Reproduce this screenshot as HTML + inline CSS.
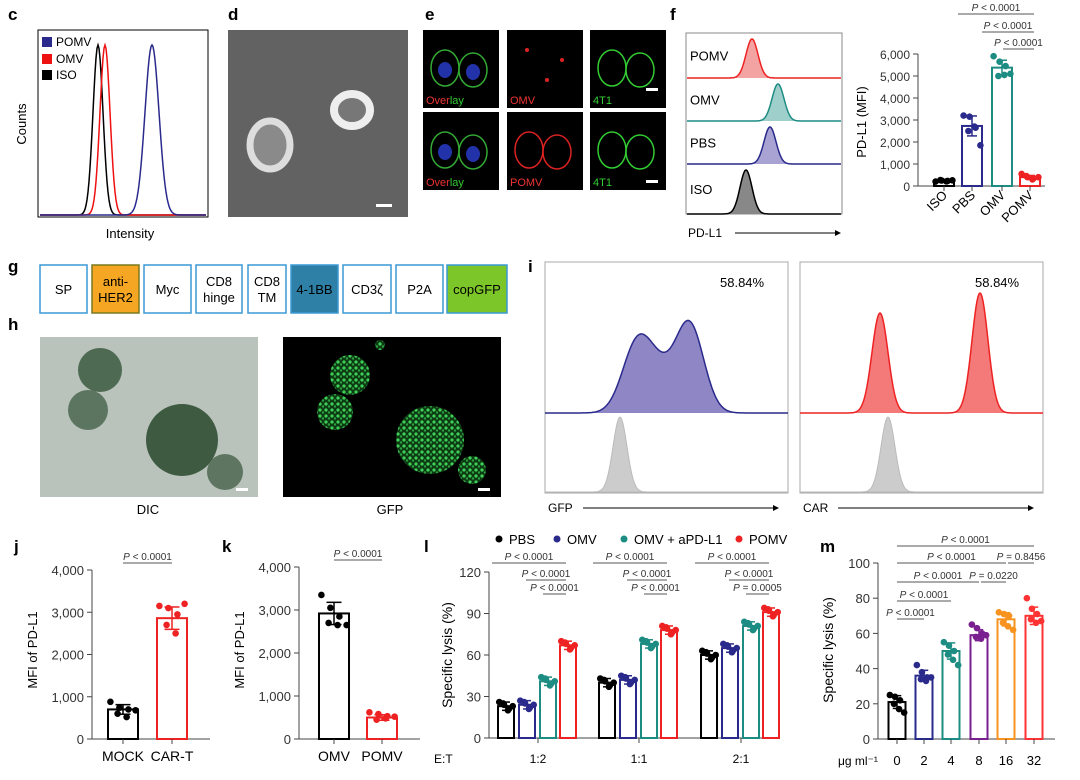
<!DOCTYPE html>
<html><head><meta charset="utf-8"><style>
html,body{margin:0;padding:0;background:#fff}
svg{display:block;font-family:"Liberation Sans",sans-serif}
</style></head><body>
<svg id="fig" width="1080" height="780" viewBox="0 0 1080 780" xmlns="http://www.w3.org/2000/svg">
<defs>
<pattern id="speck" width="6" height="6" patternUnits="userSpaceOnUse"><rect width="6" height="6" fill="#0d3a12"/><circle cx="2" cy="2" r="1.6" fill="#3fd05a"/><circle cx="5" cy="4.5" r="1.2" fill="#2aa040"/></pattern>
<marker id="arr" markerWidth="6" markerHeight="6" refX="5" refY="3" orient="auto"><path d="M0,0 L6,3 L0,6 z" fill="#000"/></marker>
</defs>
<g font-weight="bold" font-size="17">
<text x="8" y="20">c</text><text x="228" y="20">d</text><text x="425" y="20">e</text><text x="670" y="20">f</text>
<text x="8" y="272">g</text><text x="8" y="330">h</text><text x="528" y="272">i</text>
<text x="14" y="552">j</text><text x="222" y="552">k</text><text x="424" y="552">l</text><text x="820" y="552">m</text>
</g>
<g>
<rect x="38" y="30" width="170" height="187" fill="none" stroke="#000" stroke-width="1"/>
<text x="26" y="124" font-size="13" transform="rotate(-90 26 124)" text-anchor="middle">Counts</text>
<text x="130" y="238" font-size="13" text-anchor="middle">Intensity</text>
<g id="cCurves"></g>
<g font-size="12">
<rect x="42" y="37" width="10" height="10" fill="#2a2a8c"/><text x="56" y="46">POMV</text>
<rect x="42" y="54" width="10" height="10" fill="#e11"/><text x="56" y="63">OMV</text>
<rect x="42" y="70" width="10" height="10" fill="#000"/><text x="56" y="79">ISO</text>
</g>
</g>
<g>
<rect x="228" y="30" width="180" height="187" fill="#626262"/>
<ellipse cx="270" cy="145" rx="20" ry="24" fill="#8a8a8a" stroke="#ddd" stroke-width="7"/>
<ellipse cx="352" cy="110" rx="18" ry="16" fill="#777" stroke="#eee" stroke-width="8"/>
<rect x="376" y="204" width="16" height="3" fill="#fff"/>
</g>
<g id="panelE"></g>
<g>
<rect x="686" y="33" width="156" height="181" fill="none" stroke="#888"/>
<g id="fHist"></g>
<text x="688" y="237" font-size="12">PD-L1</text>
<line x1="735" y1="233" x2="840" y2="233" stroke="#000" marker-end="url(#arr)"/>
</g>
<g id="fBar"></g>
<g id="panelG"></g>
<g>
<rect x="40" y="337" width="218" height="160" fill="#b9c3bb"/>
<circle cx="100" cy="370" r="22" fill="#4f6a52"/><circle cx="88" cy="410" r="20" fill="#5c7560"/>
<circle cx="182" cy="440" r="36" fill="#3e5a41"/><circle cx="225" cy="472" r="18" fill="#5e7661"/>
<rect x="236" y="488" width="12" height="3" fill="#fff"/>
<text x="148" y="514" font-size="13" text-anchor="middle">DIC</text>
<rect x="283" y="337" width="218" height="160" fill="#000"/>
<circle cx="350" cy="375" r="20" fill="url(#speck)"/><circle cx="335" cy="412" r="18" fill="url(#speck)"/>
<circle cx="430" cy="440" r="34" fill="url(#speck)"/><circle cx="472" cy="470" r="14" fill="url(#speck)"/>
<circle cx="380" cy="345" r="5" fill="url(#speck)"/>
<rect x="478" y="488" width="12" height="3" fill="#fff"/>
<text x="390" y="514" font-size="13" text-anchor="middle">GFP</text>
</g>
<g id="panelI"></g>
<g id="jBar"></g>
<g id="kBar"></g>
<g id="lBar"></g>
<g id="mBar"></g>
</svg>
<script>
const fCats=["ISO","PBS","OMV","POMV"];
const fVals=[250,2730,5380,400];
const fDots=[[200,250,230,270,210,260],[3200,3150,2650,2500,2700,1850],[5900,5650,5450,5000,5050,5100],[550,400,350,450,300,400]];
const fTicks=[0,1000,2000,3000,4000,5000,6000];
const jCats=["MOCK","CAR-T"];
const jVals=[700,2860];
const jDots=[[880,740,700,600,520,680],[3150,3100,2950,2700,2500,3200]];
const kCats=["OMV","POMV"];
const kVals=[2920,500];
const kDots=[[3350,3050,2850,2700,2650,2650],[620,580,530,450,480,520]];
const jkTicks=[0,1000,2000,3000,4000];
const lGroups=["1:2","1:1","2:1"];
const lSeries=["PBS","OMV","OMV + aPD-L1","POMV"];
const lVals=[[23,24,41,67],[40,42,68,78],[60,65,81,91]];
const lTicks=[0,30,60,90,120];
const mCats=["0","2","4","8","16","32"];
const mVals=[21,36,50,59,68,70];
const mDots=[[25,24,22,20,17,15],[42,38,35,34,33,35],[55,53,50,48,45,42],[65,63,60,58,57,59],[72,71,70,66,64,62],[80,74,71,68,66,67]];
const mTicks=[0,20,40,60,80,100];
const cPeaks=[98,105,152];
const NS="http://www.w3.org/2000/svg";
function mk(tag,attrs,parent,txt){const e=document.createElementNS(NS,tag);for(const k in attrs)e.setAttribute(k,attrs[k]);if(txt!==undefined)e.textContent=txt;parent.appendChild(e);return e;}
function fmt(v){return v>=1000?(Math.floor(v/1000)+","+String(v%1000).padStart(3,"0")):String(v);}
function axisY(g,x,yScale,ticks,fs){
  const ax=mk("line",{x1:x,x2:x,y1:yScale(ticks[0]),y2:yScale(ticks[ticks.length-1]),stroke:"#444"},g);
  
  ticks.forEach(t=>{const y=yScale(t);mk("line",{x1:x-5,x2:x,y1:y,y2:y,stroke:"#444"},g);
    const tl=mk("text",{x:x-8,y:y+5,"font-size":fs,"text-anchor":"end",fill:"#333"},g,fmt(t));
    });
}
function barDraw(g,cx,w,v,col,yS,dots,sd){
  const b=mk("rect",{x:cx-w/2,y:yS(v),width:w,height:yS(0)-yS(v),fill:"#fff",stroke:col,"stroke-width":2},g);
  
  if(sd!==undefined){mk("line",{x1:cx,x2:cx,y1:yS(v-sd),y2:yS(v+sd),stroke:col,"stroke-width":1.5},g);
    [v-sd,v+sd].forEach(e=>mk("line",{x1:cx-w/4,x2:cx+w/4,y1:yS(e),y2:yS(e),stroke:col,"stroke-width":1.5},g));}
  if(dots){dots.forEach((d,i)=>{const dx=((i%3)-1)*w*0.3+(i>=3?w*0.12:-w*0.12);
    const c=mk("circle",{cx:cx+dx,cy:yS(d),r:3.3,fill:col},g);});}
}
function sig(g,x1,x2,y,label,fs){mk("line",{x1:x1,x2:x2,y1:y,y2:y,stroke:"#555"},g);
  const t=mk("text",{x:(x1+x2)/2,y:y-3,"font-size":fs,"text-anchor":"middle",fill:"#333"},g);
  mk("tspan",{"font-style":"italic"},t,"P");mk("tspan",{},t," "+label);}
function sdOf(a,m){return Math.sqrt(a.reduce((s,x)=>s+(x-m)*(x-m),0)/a.length);}
function gauss(x,c,s){return Math.exp(-((x-c)*(x-c))/(2*s*s));}
(function(){const g=document.getElementById("cCurves");const cols=["#000","#e11","#2a2a8c"];const sds=[5,5,7];
 cPeaks.forEach((p,i)=>{let d="";for(let x=40;x<=206;x++){const y=215-170*gauss(x,p,sds[i]);d+=(x==40?"M":"L")+x+","+y.toFixed(1);}
  const pl=mk("path",{d:d,fill:"none",stroke:cols[i],"stroke-width":1.5},g);});})();
(function(){const g=document.getElementById("panelE");const xs=[423,507,590],ys=[30,112];
 const labels=[["Overlay","OMV","4T1"],["Overlay","POMV","4T1"]];
 ys.forEach((y,r)=>xs.forEach((x,c)=>{mk("rect",{x:x,y:y,width:76,height:78,fill:"#000"},g);
  const col=c==2?"#3c3":(c==1?"#d22":"#3a3");
  if(c!=1||r==1){mk("ellipse",{cx:x+22,cy:y+38,rx:14,ry:18,fill:"none",stroke:col,"stroke-width":1.5},g);
   mk("ellipse",{cx:x+50,cy:y+40,rx:14,ry:17,fill:"none",stroke:col,"stroke-width":1.5},g);}
  if(c==0){mk("ellipse",{cx:x+22,cy:y+40,rx:7,ry:8,fill:"#2233aa"},g);mk("ellipse",{cx:x+50,cy:y+42,rx:7,ry:8,fill:"#2233aa"},g);}
  if(c==1&&r==0){[[20,20],[40,50],[55,30]].forEach(p=>mk("circle",{cx:x+p[0],cy:y+p[1],r:2,fill:"#d22"},g));}
  const lab=mk("text",{x:x+3,y:y+74,"font-size":11,fill:c==2?"#3c3":"#e33"},g,labels[r][c]);
  if(labels[r][c]=="Overlay"){lab.textContent="";mk("tspan",{fill:"#e33"},lab,"Over");mk("tspan",{fill:"#3c3"},lab,"lay");}
  if(c==2)mk("rect",{x:x+56,y:y+(r?68:58),width:12,height:3,fill:"#fff"},g);}));})();
(function(){const g=document.getElementById("fHist");const rows=[{n:"POMV",c:"#e22",f:"#f4a3a3",p:752,y0:33,y1:78},{n:"OMV",c:"#1d8c82",f:"#9fcfcb",p:778,y0:78,y1:121},{n:"PBS",c:"#2a2a8c",f:"#a9a3d3",p:770,y0:121,y1:164},{n:"ISO",c:"#000",f:"#888",p:746,y0:164,y1:214}];
 rows.forEach(r=>{let d="";for(let x=687;x<=841;x++){const y=r.y1-(r.y1-r.y0-6)*gauss(x,r.p,6);d+=(x==687?"M":"L")+x+","+y.toFixed(1);}
  mk("path",{d:d+"L841,"+r.y1+"L687,"+r.y1+"Z",fill:r.f,stroke:"none"},g);
  const pl=mk("path",{d:d,fill:"none",stroke:r.c,"stroke-width":1.5},g);
  mk("text",{x:690,y:r.y0+(r.y1-r.y0)/2+5,"font-size":13},g,r.n);});})();
(function(){const g=document.getElementById("fBar");const yS=v=>186-v*0.022;const cols=["#000","#2a2a8c","#1d8c82","#e22"];const xs=[944,972,1002,1030];
 axisY(g,918,yS,fTicks,12);mk("line",{x1:918,x2:1045,y1:186,y2:186,stroke:"#444"},g);
 fCats.forEach((c,i)=>{barDraw(g,xs[i],20,fVals[i],cols[i],yS,fDots[i],sdOf(fDots[i],fVals[i]));
  mk("line",{x1:xs[i],x2:xs[i],y1:186,y2:191,stroke:"#444"},g);
  const t=mk("text",{x:xs[i]+4,y:196,"font-size":13,"text-anchor":"end",transform:`rotate(-45 ${xs[i]+4} 196)`},g,c);});
 sig(g,958,1034,14,"< 0.0001",10);sig(g,982,1034,32,"< 0.0001",10);sig(g,1003,1034,49,"< 0.0001",10);
 mk("text",{x:866,y:122,"font-size":13,"text-anchor":"middle",transform:"rotate(-90 866 122)"},g,"PD-L1 (MFI)");})();
(function(){const g=document.getElementById("panelG");const boxes=[["SP",40,87],["anti-|HER2",92,139,"#f5a623","#7a7a20"],["Myc",144,191],["CD8|hinge",196,242],["CD8|TM",248,286],["4-1BB",291,338,"#2e80a6"],["CD3ζ",343,391],["P2A",396,443],["copGFP",447,507,"#7dc62a"]];
 boxes.forEach(b=>{const r=mk("rect",{x:b[1],y:265,width:b[2]-b[1],height:48,fill:b[3]||"#fff",stroke:b[4]||"#3a9ad4","stroke-width":1.5},g);
  const lines=b[0].split("|");lines.forEach((l,i)=>mk("text",{x:(b[1]+b[2])/2,y:289+5+(i-(lines.length-1)/2)*16,"font-size":13,"text-anchor":"middle"},g,l));});})();
(function(){const g=document.getElementById("panelI");
 [[545,"#2a2a8c","#8f86c6","GFP"],[800,"#e22","#f47a7a","CAR"]].forEach((p,k)=>{const x0=p[0],w=243;
  mk("rect",{x:x0,y:262,width:w,height:231,fill:"none",stroke:"#aaa"},g);
  mk("text",{x:x0+175,y:287,"font-size":13},g,"58.84%");
  let d="";const pk=k==0?[[90,50,14],[145,85,14],[110,45,18]]:[[80,100,8],[180,120,8]];
  for(let x=0;x<=w;x++){let v=0;pk.forEach(q=>v+=q[1]*gauss(x,q[0],q[2]));if(v>135)v=135;d+=(x==0?"M":"L")+(x0+x)+","+(413-v).toFixed(1);}
  mk("path",{d:d+`L${x0+w},413L${x0},413Z`,fill:p[2]},g);
  const pl=mk("path",{d:d,fill:"none",stroke:p[1],"stroke-width":1.5},g);
  let d2="";for(let x=0;x<=w;x++){const v=75*gauss(x,k==0?75:88,7);d2+=(x==0?"M":"L")+(x0+x)+","+(492-v).toFixed(1);}
  mk("path",{d:d2+`L${x0+w},492L${x0},492Z`,fill:"#ccc",stroke:"#bbb"},g);
  mk("text",{x:x0+3,y:512,"font-size":12},g,p[3]);
  mk("line",{x1:x0+38,x2:x0+w-10,y1:508,y2:508,stroke:"#000","marker-end":"url(#arr)"},g);});})();
function jk(id,ax,top4000,xs,cats,vals,dots,cols,label){const g=document.getElementById(id);const yS=v=>739-v*(739-top4000)/4000;
 axisY(g,ax,yS,jkTicks,13);mk("line",{x1:ax,x2:xs[1]+38,y1:739,y2:739,stroke:"#444"},g);
 cats.forEach((c,i)=>{barDraw(g,xs[i],30,vals[i],cols[i],yS,dots[i],sdOf(dots[i],vals[i]));
  mk("line",{x1:xs[i],x2:xs[i],y1:739,y2:744,stroke:"#444"},g);
  const t=mk("text",{x:xs[i],y:761,"font-size":14,"text-anchor":"middle"},g,c);});
 sig(g,xs[0],xs[1],top4000-7,"< 0.0001",10);
 mk("text",{x:ax-55,y:650,"font-size":13,"text-anchor":"middle",transform:`rotate(-90 ${ax-55} 650)`},g,label);}
jk("jBar",92,570,[123,172],jCats,jVals,jDots,["#000","#e22"],"MFI of PD-L1");
jk("kBar",299,567,[334,382],kCats,kVals,kDots,["#000","#e22"],"MFI of PD-L1");
(function(){const g=document.getElementById("lBar");const yS=v=>738-v*(166/120);const cols=["#000","#2a2a8c","#1d8c82","#e22"];const gx=[538,639,741];const off=[-32,-11,10,30];
 axisY(g,489,yS,lTicks,13);mk("line",{x1:489,x2:780,y1:738,y2:738,stroke:"#444"},g);
 mk("text",{x:452,y:655,"font-size":14,"text-anchor":"middle",transform:"rotate(-90 452 655)"},g,"Specific lysis (%)");
 mk("text",{x:434,y:763,"font-size":12},g,"E:T");
 lGroups.forEach((grp,gi)=>{lVals[gi].forEach((v,si)=>{const ds=[v+3,v+1,v-2,v+2,v-3,v];barDraw(g,gx[gi]+off[si],16,v,cols[si],yS,ds,3);});
  mk("line",{x1:gx[gi],x2:gx[gi],y1:738,y2:743,stroke:"#444"},g);
  const t=mk("text",{x:gx[gi],y:763,"font-size":12,"text-anchor":"middle"},g,grp);
  sig(g,gx[gi]-46,gx[gi]+28,563,"< 0.0001",10);sig(g,gx[gi]-12,gx[gi]+28,580,"< 0.0001",10);sig(g,gx[gi]+5,gx[gi]+28,594,gi==2?"= 0.0005":"< 0.0001",10);});
 const lx=[499,557,624,739];lSeries.forEach((s,i)=>{mk("circle",{cx:lx[i],cy:539,r:3.5,fill:cols[i]},g);
  const t=mk("text",{x:lx[i]+10,y:544,"font-size":13},g,s);});})();
(function(){const g=document.getElementById("mBar");const yS=v=>739-v*1.76;const cols=["#000","#2a2a8c","#1d8c82","#7a1f8f","#f7931e","#f33"];const xs=[897,924,951,979,1006,1034];
 axisY(g,878,yS,mTicks,13);mk("line",{x1:878,x2:1055,y1:739,y2:739,stroke:"#444"},g);
 mk("text",{x:833,y:650,"font-size":14,"text-anchor":"middle",transform:"rotate(-90 833 650)"},g,"Specific lysis (%)");
 mk("text",{x:838,y:765,"font-size":12},g,"μg ml⁻¹");
 mCats.forEach((c,i)=>{barDraw(g,xs[i],17,mVals[i],cols[i],yS,mDots[i],sdOf(mDots[i],mVals[i]));
  mk("line",{x1:xs[i],x2:xs[i],y1:739,y2:744,stroke:"#444"},g);
  const t=mk("text",{x:xs[i],y:765,"font-size":13,"text-anchor":"middle"},g,c);});
 sig(g,xs[0],xs[5],546,"< 0.0001",10);sig(g,xs[0],xs[4],563,"< 0.0001",10);sig(g,xs[4]+2,xs[5],563,"= 0.8456",10);
 sig(g,xs[0],xs[3],582,"< 0.0001",10);sig(g,xs[3]+2,xs[4],582,"= 0.0220",10);sig(g,xs[0],xs[2],601,"< 0.0001",10);sig(g,xs[0],xs[1],619,"< 0.0001",10);})();
</script>
</body></html>
